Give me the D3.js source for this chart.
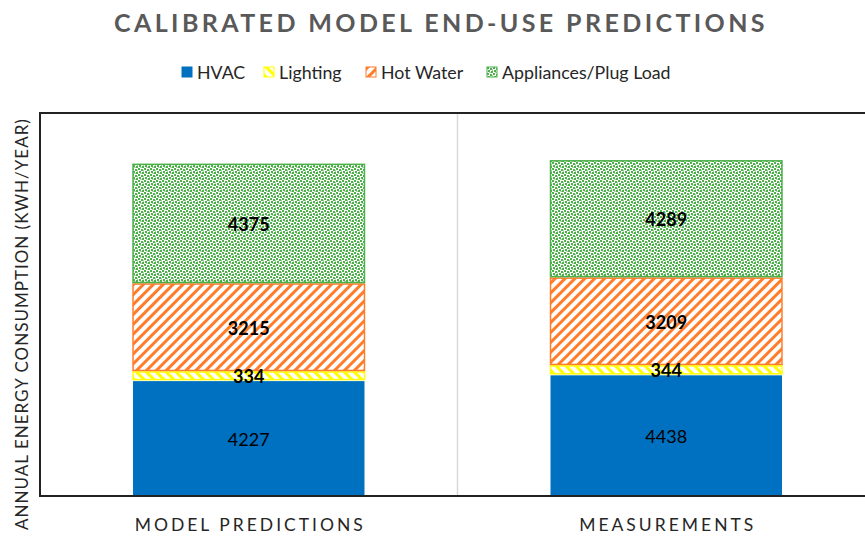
<!DOCTYPE html>
<meta charset="utf-8">
<style>
  body { margin: 0; background: #fff; }
  text { font-family: Lato, "Open Sans", sans-serif; }
  .title { font-size: 25px; font-weight: 700; fill: #595959; letter-spacing: 3.4px; }
  .legend text { font-size: 17.8px; fill: #262626; }
  .cat { font-size: 17.5px; fill: #262626; letter-spacing: 3px; }
  .ylab { font-size: 17px; fill: #262626; letter-spacing: 1px; }
  .val { font-size: 18px; fill: #000; }
</style>
<svg width="865" height="538"></svg>
<script src="https://d3js.org/d3.v7.min.js"></script>
<script>
  var categories = ["MODEL PREDICTIONS", "MEASUREMENTS"];
  var series = ["HVAC", "Lighting", "Hot Water", "Appliances/Plug Load"];
  var hvac = [4227, 4438];
  var lighting = [334, 344];
  var hotWater = [3215, 3209];
  var appliances = [4375, 4289];
  var yMax = 14000;

  var svg = d3.select("svg");
  var defs = svg.append("defs");

  // fill patterns
  function stripes(id, color, dir) {
    var p = defs.append("pattern").attr("id", id)
      .attr("patternUnits", "userSpaceOnUse")
      .attr("width", 7).attr("height", 7)
      .attr("patternTransform", "rotate(" + (dir > 0 ? 45 : -45) + ")");
    p.append("rect").attr("width", 7).attr("height", 7).attr("fill", "#fff");
    p.append("rect").attr("width", 3).attr("height", 7).attr("fill", color);
  }
  stripes("pHot", "#FF7C2B", 1);
  stripes("pLight", "#FFFF00", -1);

  // speckled green texture
  var dots = defs.append("pattern").attr("id", "pApp")
    .attr("patternUnits", "userSpaceOnUse").attr("width", 6).attr("height", 6);
  dots.append("rect").attr("width", 6).attr("height", 6).attr("fill", "#fff");
  [[0, 0, 2], [3, 1, 2], [1, 3, 2], [4, 4, 2], [5, 2.5, 1], [2.5, 5, 1]].forEach(function (p) {
    dots.append("rect").attr("x", p[0]).attr("y", p[1]).attr("width", p[2]).attr("height", p[2])
      .attr("fill", "#4DB04A");
  });

  var styles = [
    { fill: "#0070C0", stroke: "#0070C0", bold: false },
    { fill: "url(#pLight)", stroke: "#FFFF00", bold: true },
    { fill: "url(#pHot)", stroke: "#FF7C2B", bold: true },
    { fill: "url(#pApp)", stroke: "#4DB04A", bold: true }
  ];

  var plotL = 40, plotR = 875, plotT = 113, plotB = 496;

  var x = d3.scaleBand().domain(categories).range([plotL, plotR]).paddingInner(0).paddingOuter(0);
  var barPad = 0.442;
  var y = d3.scaleLinear().domain([0, yMax]).range([plotB, plotT]);

  var rows = categories.map(function (c, i) {
    return { cat: c, "HVAC": hvac[i], "Lighting": lighting[i], "Hot Water": hotWater[i], "Appliances/Plug Load": appliances[i] };
  });
  var stacked = d3.stack().keys(series)(rows);

  // title
  svg.append("text").attr("class", "title")
    .attr("x", 441).attr("y", 32).attr("text-anchor", "middle")
    .text("CALIBRATED  MODEL  END-USE  PREDICTIONS");

  // legend
  var legX = [182, 264, 366, 487];
  var leg = svg.append("g").attr("class", "legend");
  series.forEach(function (s, i) {
    var g = leg.append("g").attr("transform", "translate(" + legX[i] + ",67)");
    g.append("rect").attr("width", 10).attr("height", 10)
      .attr("fill", styles[i].fill).attr("stroke", styles[i].stroke).attr("stroke-width", 1);
    g.append("text").attr("x", 15).attr("y", 12).text(s);
  });

  // category separator
  svg.append("line")
    .attr("x1", x(categories[1])).attr("x2", x(categories[1]))
    .attr("y1", plotT).attr("y2", plotB)
    .attr("stroke", "#d9d9d9").attr("stroke-width", 1.5);

  // bars
  var bw = x.bandwidth() * (1 - barPad);
  stacked.forEach(function (layer, si) {
    var g = svg.append("g");
    g.selectAll("rect").data(layer).enter().append("rect")
      .attr("x", function (d) { return x(d.data.cat) + (x.bandwidth() - bw) / 2 + 0.75; })
      .attr("y", function (d) { return y(d[1]) + 0.75; })
      .attr("width", bw - 1.5)
      .attr("height", function (d) { return y(d[0]) - y(d[1]) - 1.5; })
      .attr("fill", styles[si].fill)
      .attr("stroke", styles[si].stroke)
      .attr("stroke-width", si === 0 ? 0 : 1.5);
  });

  // value labels
  stacked.forEach(function (layer, si) {
    svg.append("g").selectAll("text").data(layer).enter().append("text")
      .attr("class", "val")
      .attr("x", function (d) { return x(d.data.cat) + x.bandwidth() / 2; })
      .attr("y", function (d) { return (y(d[0]) + y(d[1])) / 2 + 7.5; })
      .attr("text-anchor", "middle")
      .attr("font-weight", styles[si].bold ? 700 : 400)
      .text(function (d) { return d[1] - d[0]; });
  });

  // plot frame
  svg.append("path")
    .attr("d", "M" + plotR + "," + plotT + "H" + plotL + "V" + plotB + "H" + plotR)
    .attr("fill", "none").attr("stroke", "#222").attr("stroke-width", 2);

  // category labels
  svg.append("g").selectAll("text").data(categories).enter().append("text")
    .attr("class", "cat")
    .attr("x", function (d) { return x(d) + x.bandwidth() / 2 + 1.5; })
    .attr("y", 531).attr("text-anchor", "middle")
    .text(function (d) { return d; });

  // y axis title
  svg.append("text").attr("class", "ylab")
    .attr("transform", "translate(28,324) rotate(-90)")
    .attr("text-anchor", "middle")
    .text("ANNUAL ENERGY CONSUMPTION (KWH/YEAR)");
</script>
